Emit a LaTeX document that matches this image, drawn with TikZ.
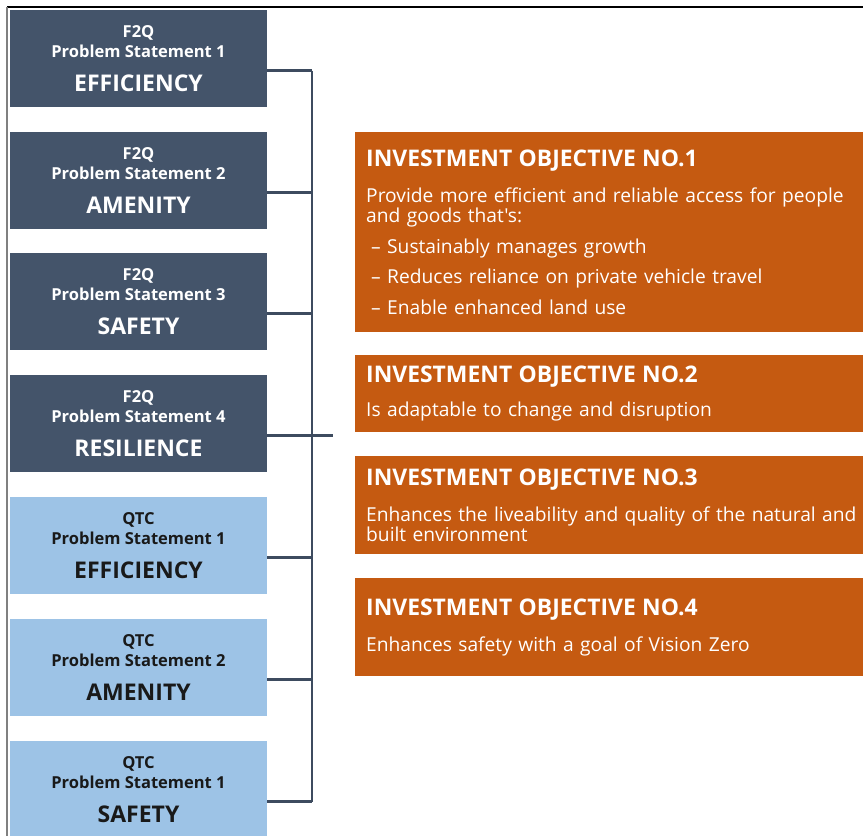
\documentclass[tikz,border=0pt]{standalone}
\usepackage{fontspec}
\setmainfont{Open Sans}[Ligatures=TeXOff]
\usetikzlibrary{calc}

\definecolor{slate}{HTML}{44546A}
\definecolor{skyblue}{HTML}{9DC3E6}
\definecolor{rust}{HTML}{C55A11}
\definecolor{linkgrey}{HTML}{3D4B5F}

\tikzset{
  problem/.style={rectangle, minimum width=257pt, minimum height=97pt, inner sep=0pt,
    align=center, font=\fontsize{16.5}{20}\selectfont\bfseries},
  f2q/.style={problem, fill=slate, text=white},
  qtc/.style={problem, fill=skyblue, text=black!90},
  objective/.style={rectangle, anchor=north west, fill=rust, text=white, inner xsep=11pt,
    inner ysep=2pt, text width=500pt, align=left, font=\fontsize{19.2}{20}\selectfont},
  link/.style={linkgrey, line width=2.8pt},
}
\newcommand{\pstext}[3]{#1\\Problem Statement #2\\[14pt]{\fontsize{23}{20}\selectfont #3}}
\newcommand{\objtitle}[1]{{\fontsize{22.9}{20}\selectfont\bfseries INVESTMENT OBJECTIVE NO.#1}}
\newcommand{\objitem}{\hspace*{5pt}– }

\begin{document}
\begin{tikzpicture}[x=1pt,y=-1pt]
\useasboundingbox (0,0) rectangle (863,836);
\clip (0,0) rectangle (863,836);

% frame of the page
\draw[black, line width=1.6pt] (7,7) -- (863,7);
\draw[gray, line width=1.2pt] (7,7) -- (7,836);

% problem statements
\node[f2q] (ps1) at (138.5,58.5) {\pstext{F2Q}{1}{EFFICIENCY}};
\node[f2q] (ps2) at (138.5,180.5) {\pstext{F2Q}{2}{AMENITY}};
\node[f2q] (ps3) at (138.5,301.5) {\pstext{F2Q}{3}{SAFETY}};
\node[f2q] (ps4) at (138.5,423.5) {\pstext{F2Q}{4}{RESILIENCE}};
\node[qtc] (ps5) at (138.5,545.5) {\pstext{QTC}{1}{EFFICIENCY}};
\node[qtc] (ps6) at (138.5,667.5) {\pstext{QTC}{2}{AMENITY}};
\node[qtc] (ps7) at (138.5,789.5) {\pstext{QTC}{1}{SAFETY}};

% investment objectives
\node[objective, minimum height=200pt] (io1) at (355,132) {\objtitle{1}\\[16pt]
  Provide more efficient and reliable access for people\\
  and goods that's:\\[11pt]
  \objitem Sustainably manages growth\\[10.5pt]
  \objitem Reduces reliance on private vehicle travel\\[10.5pt]
  \objitem Enable enhanced land use};
\node[objective, minimum height=77pt] (io2) at (355,355) {\objtitle{2}\\[14pt]
  Is adaptable to change and disruption};
\node[objective, minimum height=98pt] (io3) at (355,456) {\objtitle{3}\\[16pt]
  Enhances the liveability and quality of the natural and\\
  built environment};
\node[objective, minimum height=98pt] (io4) at (355,578) {\objtitle{4}\\[16pt]
  Enhances safety with a goal of Vision Zero};

% bracket
\coordinate (spine) at (312,0);
\coordinate (hub) at (333,435.5);
\foreach \n in {1,...,7}{
  \coordinate (t\n) at ([yshift=-12pt]ps\n.east);
  \draw[link] (t\n) -- (t\n -| spine);
}
\draw[link] (t1 -| spine) -- (t7 -| spine);
\draw[link] (t4 -| spine) -- (hub);

\end{tikzpicture}
\end{document}
